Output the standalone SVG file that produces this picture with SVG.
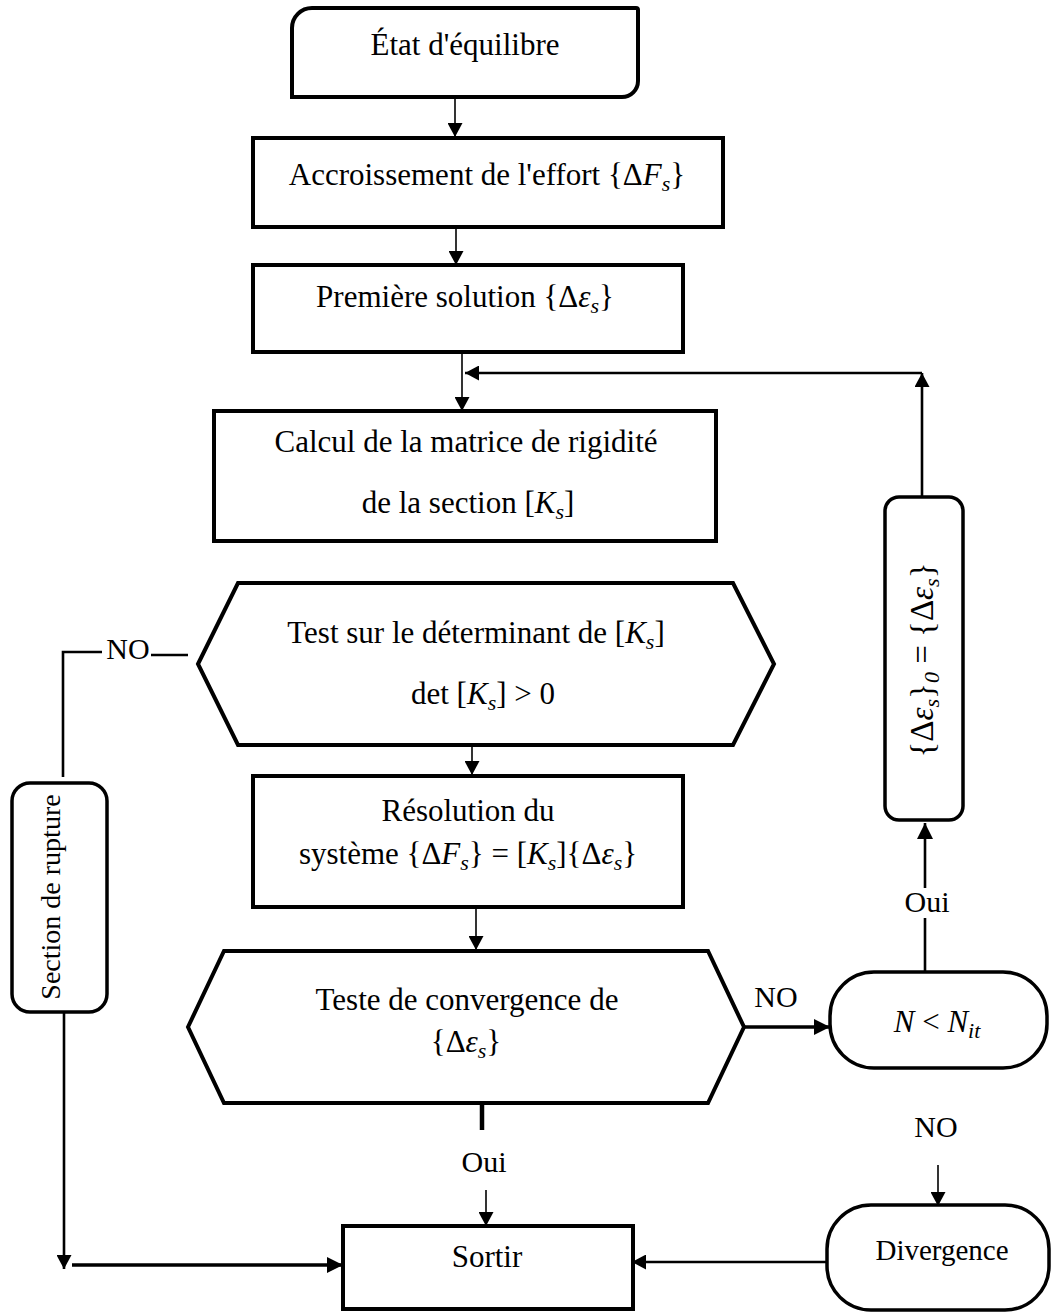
<svg xmlns="http://www.w3.org/2000/svg" width="1053" height="1313" viewBox="0 0 1053 1313">
  <defs>
    <marker id="arrow" viewBox="0 0 14 15" refX="14" refY="7.5" markerWidth="14" markerHeight="15" markerUnits="userSpaceOnUse" orient="auto">
      <path d="M0,0 L14,7.5 L0,15 Z" fill="#000"/>
    </marker>
    <marker id="arrowBig" viewBox="0 0 16 16" refX="16" refY="8" markerWidth="16" markerHeight="16" markerUnits="userSpaceOnUse" orient="auto">
      <path d="M0,0 L16,8 L0,16 Z" fill="#000"/>
    </marker>
  </defs>
  <style>
    .shape { fill: #fff; stroke: #000; stroke-width: 4; }
    .pill { fill: #fff; stroke: #000; stroke-width: 3.5; }
    .txt { font-family: "Liberation Serif", "Times New Roman", serif; font-size: 31px; fill: #000; }
    .lbl { font-family: "Liberation Serif", "Times New Roman", serif; font-size: 30px; fill: #000; }
    .m { font-style: italic; }
    .sub { font-style: italic; font-size: 22px; }
    .wire { fill: none; stroke: #000; stroke-width: 1.6; }
    .wire2 { fill: none; stroke: #000; stroke-width: 2.6; }
    .wire3 { fill: none; stroke: #000; stroke-width: 3.5; }
  </style>
  <rect width="1053" height="1313" fill="#fff"/>

  <!-- connectors -->
  <g id="connectors">
    <line class="wire" x1="455" y1="97" x2="455" y2="137" marker-end="url(#arrow)"/>
    <line class="wire" x1="456" y1="227" x2="456" y2="265" marker-end="url(#arrow)"/>
    <line class="wire" x1="462" y1="352" x2="462" y2="411" marker-end="url(#arrow)"/>
    <!-- loop back into the stiffness computation -->
    <line class="wire2" x1="922" y1="497" x2="922" y2="373" marker-end="url(#arrow)"/>
    <line class="wire2" x1="922" y1="373" x2="465" y2="373" marker-end="url(#arrow)"/>
    <line class="wire" x1="472" y1="745" x2="472" y2="775" marker-end="url(#arrow)"/>
    <line class="wire" x1="476" y1="907" x2="476" y2="950" marker-end="url(#arrow)"/>
    <!-- determinant test: NO branch -->
    <polyline class="wire2" points="188,655 151,655"/>
    <polyline class="wire2" points="102,652 63,652 63,777"/>
    <!-- rupture section down to exit -->
    <line class="wire2" x1="64" y1="1012" x2="64" y2="1269" marker-end="url(#arrow)"/>
    <line class="wire3" x1="72" y1="1265" x2="343" y2="1265" marker-end="url(#arrowBig)"/>
    <!-- convergence test: NO branch -->
    <line class="wire3" x1="745" y1="1027" x2="830" y2="1027" marker-end="url(#arrowBig)"/>
    <!-- iteration count: Oui branch -->
    <line class="wire2" x1="925" y1="972" x2="925" y2="918"/>
    <line class="wire2" x1="925" y1="888" x2="925" y2="823" marker-end="url(#arrowBig)"/>
    <!-- iteration count: NO branch -->
    <line class="wire" x1="938" y1="1165" x2="938" y2="1206" marker-end="url(#arrow)"/>
    <line class="wire2" x1="827" y1="1262" x2="632" y2="1262" marker-end="url(#arrow)"/>
    <!-- convergence test: Oui branch -->
    <line x1="482" y1="1103" x2="482" y2="1130" stroke="#000" stroke-width="4.5"/>
    <line class="wire" x1="486" y1="1190" x2="486" y2="1226" marker-end="url(#arrow)"/>
  </g>

  <!-- branch labels -->
  <g id="labels">
    <text class="lbl" x="128" y="659" text-anchor="middle">NO</text>
    <text class="lbl" x="776" y="1007" text-anchor="middle">NO</text>
    <text class="lbl" x="936" y="1137" text-anchor="middle">NO</text>
    <text class="lbl" x="927" y="912" text-anchor="middle">Oui</text>
    <text class="lbl" x="484" y="1172" text-anchor="middle">Oui</text>
  </g>

  <g id="etat-equilibre">
    <path class="shape" d="M292,28 A20,20 0 0 1 312,8 L636,8 A2,2 0 0 1 638,10 L638,81 A16,16 0 0 1 622,97 L292,97 Z"/>
    <text class="txt" x="465" y="55" text-anchor="middle">État d'équilibre</text>
  </g>

  <g id="accroissement">
    <rect class="shape" x="253" y="138" width="470" height="89"/>
    <text class="txt" x="487" y="185" text-anchor="middle">Accroissement de l'effort {Δ<tspan class="m">F</tspan><tspan class="sub" dy="6">s</tspan><tspan dy="-6">}</tspan></text>
  </g>

  <g id="premiere-solution">
    <rect class="shape" x="253" y="265" width="430" height="87"/>
    <text class="txt" x="465" y="307" text-anchor="middle">Première solution {Δ<tspan class="m">ε</tspan><tspan class="sub" dy="6">s</tspan><tspan dy="-6">}</tspan></text>
  </g>

  <g id="matrice-rigidite">
    <rect class="shape" x="214" y="411" width="502" height="130"/>
    <text class="txt" x="466" y="452" text-anchor="middle">Calcul de la matrice de rigidité</text>
    <text class="txt" x="468" y="513" text-anchor="middle">de la section [<tspan class="m">K</tspan><tspan class="sub" dy="6">s</tspan><tspan dy="-6">]</tspan></text>
  </g>

  <g id="test-determinant">
    <polygon class="shape" points="198,664 238,583 733,583 774,664 733,745 238,745"/>
    <text class="txt" x="476" y="643" text-anchor="middle">Test sur le déterminant de [<tspan class="m">K</tspan><tspan class="sub" dy="6">s</tspan><tspan dy="-6">]</tspan></text>
    <text class="txt" x="483" y="704" text-anchor="middle">det [<tspan class="m">K</tspan><tspan class="sub" dy="6">s</tspan><tspan dy="-6">] &gt; 0</tspan></text>
  </g>

  <g id="resolution">
    <rect class="shape" x="253" y="776" width="430" height="131"/>
    <text class="txt" x="468" y="821" text-anchor="middle">Résolution du</text>
    <text class="txt" x="468" y="864" text-anchor="middle">système {Δ<tspan class="m">F</tspan><tspan class="sub" dy="6">s</tspan><tspan dy="-6">} = [</tspan><tspan class="m">K</tspan><tspan class="sub" dy="6">s</tspan><tspan dy="-6">]{Δ</tspan><tspan class="m">ε</tspan><tspan class="sub" dy="6">s</tspan><tspan dy="-6">}</tspan></text>
  </g>

  <g id="test-convergence">
    <polygon class="shape" points="188,1027 224,951 708,951 744,1027 708,1103 224,1103"/>
    <text class="txt" x="467" y="1010" text-anchor="middle">Teste de convergence de</text>
    <text class="txt" x="466" y="1052" text-anchor="middle">{Δ<tspan class="m">ε</tspan><tspan class="sub" dy="6">s</tspan><tspan dy="-6">}</tspan></text>
  </g>

  <g id="section-rupture">
    <rect class="pill" x="12" y="783" width="95" height="229" rx="18"/>
    <text class="txt" style="font-size:28px" transform="translate(60,897) rotate(-90)" text-anchor="middle">Section de rupture</text>
  </g>

  <g id="mise-a-jour">
    <rect class="pill" x="885" y="497" width="78" height="323" rx="14"/>
    <text class="txt" style="font-size:33px" transform="translate(933,660) rotate(-90)" text-anchor="middle">{Δ<tspan class="m">ε</tspan><tspan class="sub" dy="6">s</tspan><tspan dy="-6">}</tspan><tspan class="sub" dy="6" font-style="normal">0</tspan><tspan dy="-6">  =  {Δ</tspan><tspan class="m">ε</tspan><tspan class="sub" dy="6">s</tspan><tspan dy="-6">}</tspan></text>
  </g>

  <g id="nombre-iterations">
    <rect class="pill" x="830" y="972" width="217" height="96" rx="44"/>
    <text class="txt" x="937" y="1032" text-anchor="middle"><tspan class="m">N</tspan> &lt; <tspan class="m">N</tspan><tspan class="sub" dy="6">it</tspan></text>
  </g>

  <g id="divergence">
    <rect class="pill" x="827" y="1205" width="222" height="105" rx="44"/>
    <text class="txt" style="font-size:29px" x="942" y="1260" text-anchor="middle">Divergence</text>
  </g>

  <g id="sortir">
    <rect class="shape" x="343" y="1226" width="290" height="83"/>
    <text class="txt" x="487" y="1267" text-anchor="middle">Sortir</text>
  </g>
</svg>
